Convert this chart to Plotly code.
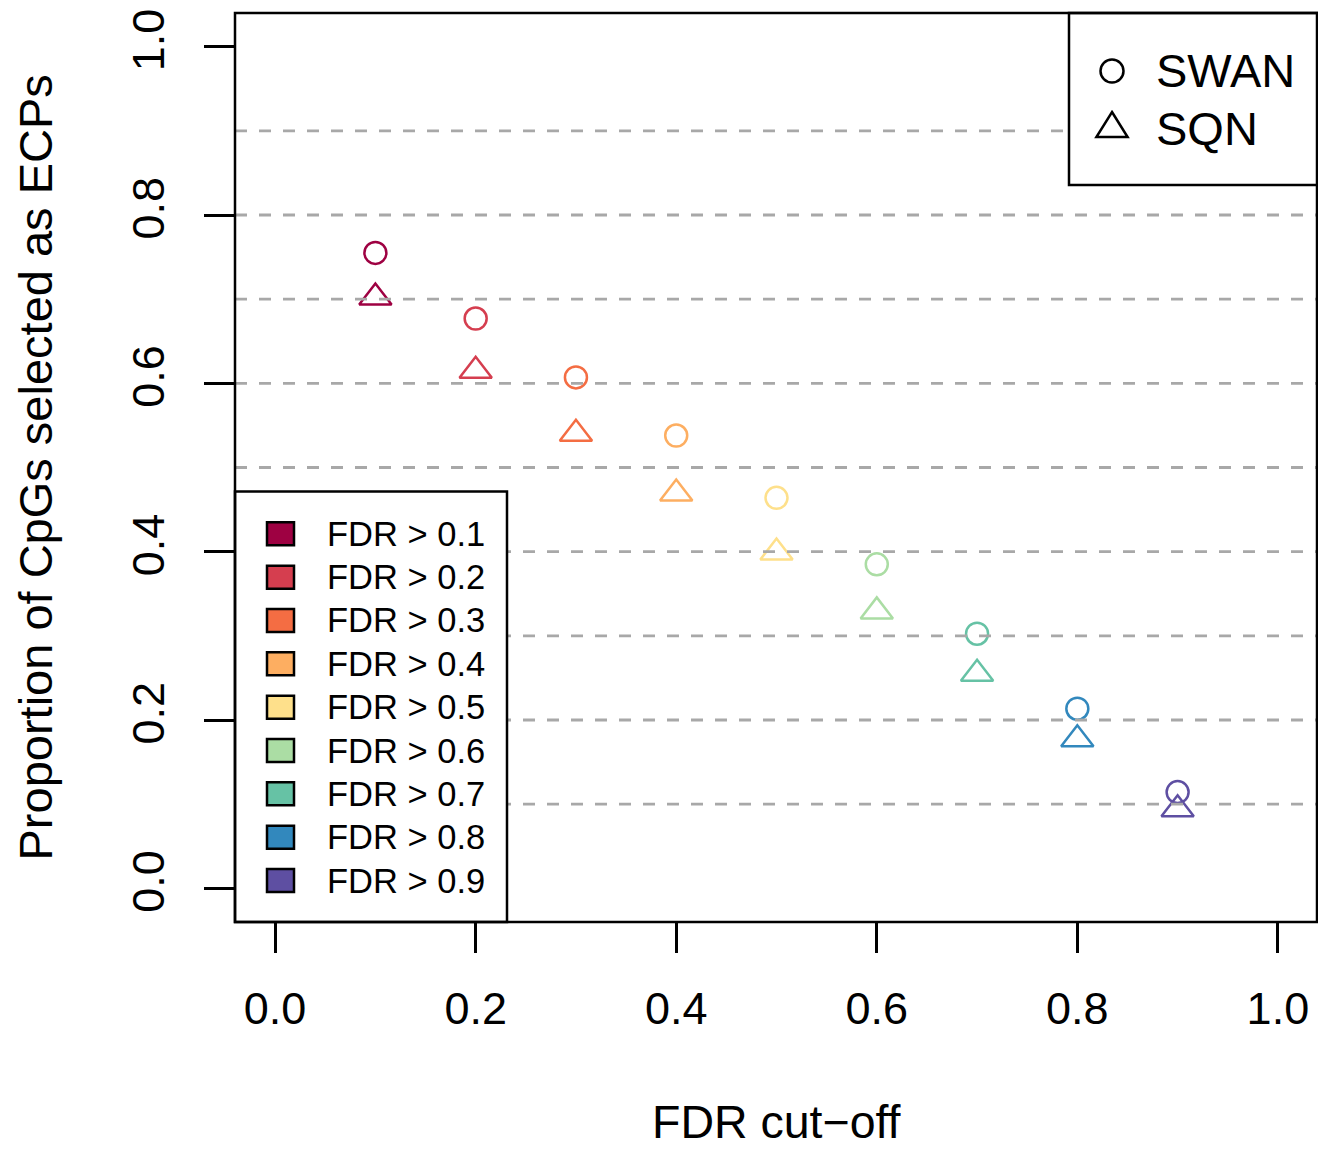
import plotly.graph_objects as go

# ---------------- data ----------------
fdr_cutoff = [0.1, 0.2, 0.3, 0.4, 0.5, 0.6, 0.7, 0.8, 0.9]
swan = [0.755, 0.677, 0.607, 0.538, 0.464, 0.385, 0.3025, 0.2134, 0.1144]
sqn = [0.702, 0.615, 0.540, 0.469, 0.399, 0.329, 0.255, 0.177, 0.094]
colors = ["#9E0142", "#D53E4F", "#F46D43", "#FDAE61", "#FEE08B",
          "#ABDDA4", "#66C2A5", "#3288BD", "#5E4FA2"]
legend_labels = ["FDR > 0.1", "FDR > 0.2", "FDR > 0.3", "FDR > 0.4", "FDR > 0.5",
                 "FDR > 0.6", "FDR > 0.7", "FDR > 0.8", "FDR > 0.9"]
method_labels = ["SWAN", "SQN"]
x_tickvals = [0.0, 0.2, 0.4, 0.6, 0.8, 1.0]
x_ticktext = ["0.0", "0.2", "0.4", "0.6", "0.8", "1.0"]
y_tickvals = [0.0, 0.2, 0.4, 0.6, 0.8, 1.0]
y_ticktext = ["0.0", "0.2", "0.4", "0.6", "0.8", "1.0"]
grid_values = [0.1, 0.2, 0.3, 0.4, 0.5, 0.6, 0.7, 0.8, 0.9]
x_title = "FDR cut\u2212off"
y_title = "Proportion of CpGs selected as ECPs"

# ---------------- layout constants ----------------
W, H = 1318, 1149
PL, PT, PW, PH = 235, 13, 1083, 909          # plot area in pixels
L, T = PL, PT
R = W - L - PW
B = H - T - PH
FONT = "Liberation Sans, Arial, Helvetica, sans-serif"
LW = 2.5


def fx(px):
    return (px - PL) / PW


def fy(py):
    return (PT + PH - py) / PH


fig = go.Figure()

fig.add_trace(go.Scatter(
    x=fdr_cutoff, y=swan, mode="markers", name=method_labels[0],
    marker=dict(symbol="circle-open", size=22, color=colors, line=dict(width=LW)),
    showlegend=False, cliponaxis=False))
fig.add_trace(go.Scatter(
    x=fdr_cutoff, y=sqn, mode="markers", name=method_labels[1],
    marker=dict(symbol="triangle-up-open", size=28, color=colors, line=dict(width=LW)),
    showlegend=False, cliponaxis=False))

shapes = []
# dashed reference lines
for g in grid_values:
    shapes.append(dict(type="line", xref="x domain", x0=0, x1=1, yref="y", y0=g, y1=g,
                       line=dict(color="#A8A8A8", width=2.8, dash="12px,12px"), layer="above"))

# legend boxes
shapes.append(dict(type="rect", xref="x domain", yref="y domain",
                   x0=0, x1=fx(507), y0=0, y1=fy(491.5),
                   fillcolor="white", line=dict(color="black", width=LW), layer="above"))
shapes.append(dict(type="rect", xref="x domain", yref="y domain",
                   x0=fx(1069), x1=1, y0=fy(185), y1=1,
                   fillcolor="white", line=dict(color="black", width=LW), layer="above"))

annotations = []
# FDR legend
for i, (lab, col) in enumerate(zip(legend_labels, colors)):
    cy = 533.8 + 43.34 * i
    shapes.append(dict(type="rect", xref="x domain", yref="y domain",
                       x0=fx(267), x1=fx(294), y0=fy(cy + 11.5), y1=fy(cy - 11.5),
                       fillcolor=col, line=dict(color="black", width=LW), layer="above"))
    annotations.append(dict(text=lab, xref="x domain", yref="y domain",
                            x=fx(325), y=fy(cy), xanchor="left", yanchor="middle",
                            showarrow=False, font=dict(size=34.5, color="black", family=FONT)))

# method legend
cx, cy1, cy2 = 1112, 71, 128.7
shapes.append(dict(type="circle", xref="x domain", yref="y domain",
                   x0=fx(cx - 11.5), x1=fx(cx + 11.5), y0=fy(cy1 + 11.5), y1=fy(cy1 - 11.5),
                   line=dict(color="black", width=LW), layer="above"))
tri = [(cx, cy2 - 16.7), (cx + 15.6, cy2 + 8.3), (cx - 15.6, cy2 + 8.3)]
path = "M {} {} L {} {} L {} {} Z".format(*[v for p in tri for v in (fx(p[0]), fy(p[1]))])
shapes.append(dict(type="path", xref="x domain", yref="y domain", path=path,
                   line=dict(color="black", width=LW), layer="above"))
for lab, yy in zip(method_labels, [cy1, cy2]):
    annotations.append(dict(text=lab, xref="x domain", yref="y domain",
                            x=fx(1154), y=fy(yy), xanchor="left", yanchor="middle",
                            showarrow=False, font=dict(size=47, color="black", family=FONT)))

# frame
shapes.append(dict(type="rect", xref="paper", yref="paper", x0=0, x1=1 - 1 / PW, y0=0, y1=1,
                   line=dict(color="black", width=LW), layer="above"))

# axis titles
annotations.append(dict(text=x_title, xref="paper", yref="paper", x=fx((PL + W) / 2),
                        y=fy(1122), xanchor="center", yanchor="middle", showarrow=False,
                        font=dict(size=46.5, color="black", family=FONT)))
annotations.append(dict(text=y_title, xref="paper", yref="paper", x=fx(35), y=fy(467.5),
                        xanchor="center", yanchor="middle", textangle=-90, showarrow=False,
                        font=dict(size=47, color="black", family=FONT)))

axis_common = dict(range=[-0.04, 1.04], showgrid=False, zeroline=False, showline=False,
                   ticks="outside", ticklen=30, tickwidth=LW, tickcolor="black",
                   tickfont=dict(size=45, color="black", family=FONT))
fig.update_layout(
    width=W, height=H,
    margin=dict(l=L, r=R, t=T, b=B, pad=0),
    paper_bgcolor="white", plot_bgcolor="white",
    xaxis=dict(tickvals=x_tickvals, ticktext=x_ticktext, ticklabelstandoff=17, **axis_common),
    yaxis=dict(tickvals=y_tickvals, ticktext=y_ticktext, tickangle=-90, ticklabelstandoff=22,
               **axis_common),
    shapes=shapes, annotations=annotations,
    font=dict(family=FONT, color="black"),
    showlegend=False,
)

fig.write_html("out.html", config={"displayModeBar": False},
               post_script="document.body.style.margin='0';document.body.style.overflow='hidden';")
